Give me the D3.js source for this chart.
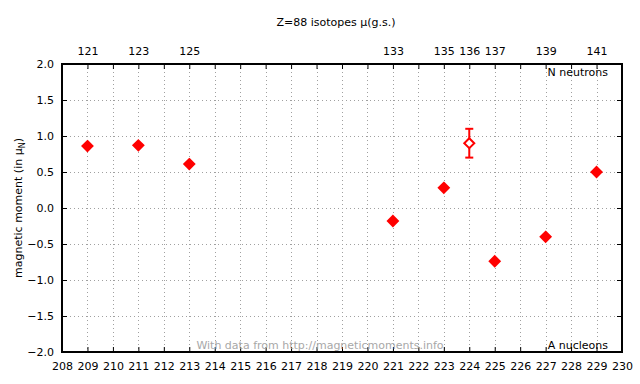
<!DOCTYPE html>
<html>
<head>
<meta charset="utf-8">
<script src="https://cdn.jsdelivr.net/npm/d3@7"></script>
<style>
  body { margin: 0; background: #fff; }
  text { font-family: "DejaVu Sans", sans-serif; font-size: 11px; fill: #000; }
</style>
</head>
<body>
<div id="chart"></div>
<script>
// mass numbers A and measured moments (nuclear magnetons)
const massNumbers = [209, 211, 213, 221, 223, 224, 225, 227, 229]
const moments = [0.86, 0.87, 0.61, -0.18, 0.28, 0.90, -0.74, -0.40, 0.50]
const errors = [0, 0, 0, 0, 0, 0.20, 0, 0, 0]
const openMarker = [false, false, false, false, false, true, false, false, false]
const Z = 88
const yTicks = [-2.0, -1.5, -1.0, -0.5, 0.0, 0.5, 1.0, 1.5, 2.0]

const width = 640
const height = 384
const margin = {top: 64, right: 18, bottom: 32, left: 62}

const svg = d3.select('#chart')
  .append('svg')
  .attr('width', width)
  .attr('height', height)

const x = d3.scaleLinear().domain([208, 230]).range([margin.left, width - margin.right])
const y = d3.scaleLinear().domain([-2, 2]).range([height - margin.bottom, margin.top])

const xTicks = d3.range(208, 231)

// dotted grid
const grid = svg.append('g')
grid.selectAll('.vg')
  .data(xTicks.slice(1, -1))
  .enter()
  .append('line')
  .attr('x1', d => Math.round(x(d)) + 0.5).attr('x2', d => Math.round(x(d)) + 0.5)
  .attr('y1', y(2)).attr('y2', y(-2))
  .attr('stroke', '#a0a0a0')
  .attr('stroke-dasharray', '1,3')
grid.selectAll('.hg')
  .data(yTicks.slice(1, -1))
  .enter()
  .append('line')
  .attr('x1', x(208)).attr('x2', x(230))
  .attr('y1', d => y(d) + 0.5).attr('y2', d => y(d) + 0.5)
  .attr('stroke', '#a0a0a0')
  .attr('stroke-dasharray', '1,3')

// axes with inward ticks
const bottomAxis = d3.axisBottom(x).tickValues(xTicks).tickFormat(d3.format('d'))
  .tickSizeInner(-5).tickSizeOuter(0).tickPadding(10)
svg.append('g')
  .attr('transform', `translate(0,${y(-2)})`)
  .call(bottomAxis)

// top axis: neutron numbers at the measured isotopes
const topAxis = d3.axisTop(x).tickValues(xTicks).tickSizeInner(-5).tickSizeOuter(0).tickPadding(9)
  .tickFormat(d => massNumbers.includes(d) ? String(d - Z) : '')
svg.append('g')
  .attr('transform', `translate(0,${y(2)})`)
  .call(topAxis)

const leftAxis = d3.axisLeft(y).tickValues(yTicks).tickFormat(d3.format('.1f'))
  .tickSizeInner(-5).tickSizeOuter(0).tickPadding(8)
svg.append('g')
  .attr('transform', `translate(${x(208)},0)`)
  .call(leftAxis)

const rightAxis = d3.axisRight(y).tickValues(yTicks).tickFormat('')
  .tickSizeInner(-5).tickSizeOuter(0)
svg.append('g')
  .attr('transform', `translate(${x(230)},0)`)
  .call(rightAxis)

svg.selectAll('.domain').remove()
svg.selectAll('.tick line').attr('stroke', '#000')
svg.selectAll('.tick text').style('font-size', '11px')

// frame
svg.append('rect')
  .attr('x', x(208)).attr('y', y(2))
  .attr('width', x(230) - x(208)).attr('height', y(-2) - y(2))
  .attr('fill', 'none')
  .attr('stroke', '#000')
  .attr('stroke-width', 2)

// titles and labels
svg.append('text')
  .attr('x', 336).attr('y', 26)
  .attr('text-anchor', 'middle')
  .text('Z=88 isotopes μ(g.s.)')

const yl = svg.append('text')
  .attr('transform', `translate(22,${y(0)}) rotate(-90)`)
  .attr('text-anchor', 'middle')
yl.append('tspan').text('magnetic moment (in μ')
yl.append('tspan').attr('dy', 3).style('font-size', '8px').text('N')
yl.append('tspan').attr('dy', -3).text(')')

svg.append('text')
  .attr('x', x(230) - 14).attr('y', y(2) + 12)
  .attr('text-anchor', 'end')
  .text('N neutrons')
svg.append('text')
  .attr('x', x(230) - 14).attr('y', y(-2) - 3)
  .attr('text-anchor', 'end')
  .text('A nucleons')
svg.append('text')
  .attr('x', 320).attr('y', y(-2) - 3)
  .attr('text-anchor', 'middle')
  .style('fill', '#a8a8a8')
  .text('With data from http://magneticmoments.info')

// error bars
const pts = massNumbers.map((a, i) => ({a, mu: moments[i], err: errors[i], open: openMarker[i]}))
const eb = svg.append('g')
  .selectAll('g')
  .data(pts.filter(d => d.err > 0))
  .enter()
  .append('g')
  .attr('stroke', '#f00')
  .attr('stroke-width', 2)
eb.append('line')
  .attr('x1', d => x(d.a)).attr('x2', d => x(d.a))
  .attr('y1', d => y(d.mu + d.err)).attr('y2', d => y(d.mu - d.err))
eb.append('line')
  .attr('x1', d => x(d.a) - 4).attr('x2', d => x(d.a) + 4)
  .attr('y1', d => y(d.mu + d.err)).attr('y2', d => y(d.mu + d.err))
eb.append('line')
  .attr('x1', d => x(d.a) - 4).attr('x2', d => x(d.a) + 4)
  .attr('y1', d => y(d.mu - d.err)).attr('y2', d => y(d.mu - d.err))

// diamond markers
const diamond = d3.symbol().type(d3.symbolDiamond2).size(64)
svg.append('g')
  .selectAll('path')
  .data(pts)
  .enter()
  .append('path')
  .attr('d', diamond)
  .attr('transform', d => `translate(${x(d.a)},${y(d.mu)})`)
  .attr('fill', d => d.open ? '#fff' : '#f00')
  .attr('stroke', '#f00')
  .attr('stroke-width', 2)
</script>
</body>
</html>
